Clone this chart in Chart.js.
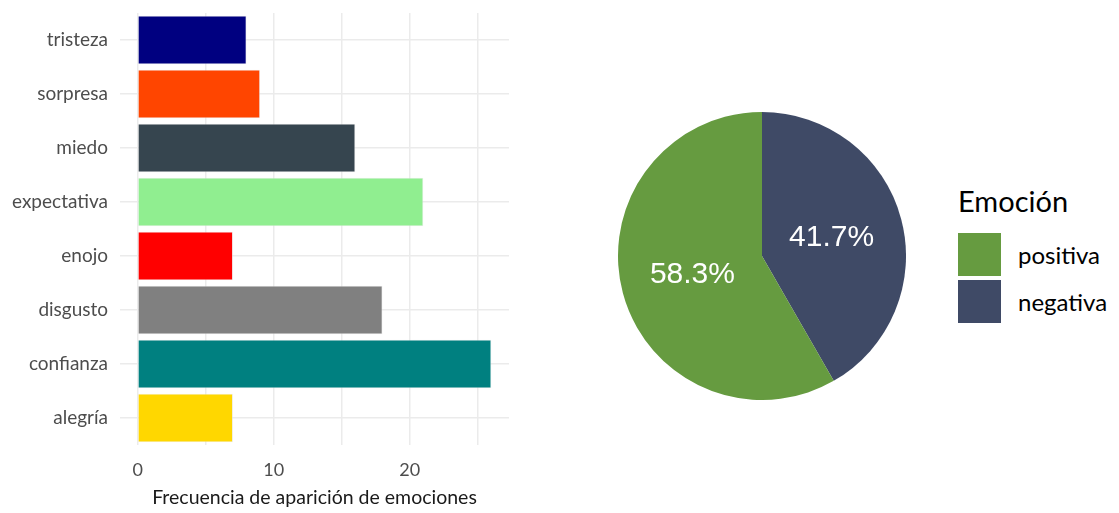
<!DOCTYPE html>
<html>
<head>
<meta charset="utf-8">
<script src="https://cdn.jsdelivr.net/npm/chart.js@4"></script>
<style>
  html, body { margin: 0; padding: 0; background: #fff; }
  body { width: 1119px; height: 513px; position: relative; overflow: hidden; font-family: Lato, sans-serif; }
  #barWrap { position: absolute; left: 0; top: 0; width: 530px; height: 513px; }
  #pieWrap { position: absolute; left: 618px; top: 112px; width: 288px; height: 288px; }
  #legend { position: absolute; left: 958px; top: 183px; color: #000; }
  #legend .title { font-size: 29px; line-height: 36px; margin-bottom: 12px; }
  #legend .row { display: flex; align-items: center; height: 47px; }
  #legend .box { width: 43px; height: 43px; margin-right: 17px; }
  #legend .lbl { font-size: 24px; }
</style>
</head>
<body>
<div id="barWrap"><canvas id="bars"></canvas></div>
<div id="pieWrap"><canvas id="pie"></canvas></div>
<div id="legend"></div>
<script>
// bar chart data (top to bottom)
const emociones = ['tristeza', 'sorpresa', 'miedo', 'expectativa', 'enojo', 'disgusto', 'confianza', 'alegría'];
const frecuencias = [8, 9, 16, 21, 7, 18, 26, 7];
const coloresBarras = ['#000080', '#FF4500', '#36454F', '#90EE90', '#FF0000', '#808080', '#008080', '#FFD700'];
const xTicks = [0, 5, 10, 15, 20, 25];

// pie data (drawn clockwise from 12 o'clock)
const polaridad = ['negativa', 'positiva'];
const porcentajes = [41.7, 58.3];
const coloresPie = ['#3F4A66', '#669B40'];
const ordenLeyenda = ['positiva', 'negativa'];

const tickColor = '#4d4d4d';
const gridColor = '#ebebeb';

// drop the label overhang padding so the plot panel sits where the layout says
function noOverhang(s) {
  s.paddingTop = 0; s.paddingBottom = 0; s.paddingLeft = 0; s.paddingRight = 0;
}

new Chart(document.getElementById('bars'), {
  type: 'bar',
  data: {
    labels: emociones,
    datasets: [{
      data: frecuencias,
      backgroundColor: coloresBarras,
      borderColor: 'rgba(230,230,230,0.8)',
      borderWidth: 0.8,
      barPercentage: 0.9,
      categoryPercentage: 1,
    }]
  },
  options: {
    indexAxis: 'y',
    responsive: true,
    maintainAspectRatio: false,
    animation: false,
    layout: { padding: { top: 13, right: 21, left: 0, bottom: 0 } },
    scales: {
      x: {
        min: -1.3, max: 27.3,
        afterBuildTicks: s => { s.ticks = xTicks.map(v => ({ value: v })); },
        afterFit: s => { s.height = 68; noOverhang(s); },
        grid: { color: gridColor, lineWidth: 1.5, drawTicks: false },
        border: { display: false },
        ticks: {
          color: tickColor, padding: 14,
          font: { family: 'Lato', size: 18 },
          callback: v => (v % 10 === 0 ? v : ''),
        },
        title: {
          display: true, text: 'Frecuencia de aparición de emociones',
          color: '#1a1a1a', font: { family: 'Lato', size: 19.5 }, padding: { top: 2 },
        },
      },
      y: {
        afterFit: s => { s.width = 120; noOverhang(s); },
        grid: { color: gridColor, lineWidth: 1.5, offset: false, drawTicks: false },
        border: { display: false },
        ticks: { color: tickColor, padding: 12, font: { family: 'Lato', size: 19 } },
      }
    },
    plugins: { legend: { display: false }, tooltip: { enabled: false } },
  }
});

// percentage labels at half radius of each slice
const pieLabels = {
  id: 'pieLabels',
  afterDatasetsDraw(chart) {
    const ctx = chart.ctx;
    const meta = chart.getDatasetMeta(0);
    ctx.save();
    ctx.fillStyle = '#fff';
    ctx.font = '30px "Liberation Sans", Arial, sans-serif';
    ctx.textAlign = 'center';
    ctx.textBaseline = 'middle';
    meta.data.forEach((arc, i) => {
      const p = arc.getCenterPoint();
      ctx.fillText(porcentajes[i].toFixed(1) + '%', p.x, p.y);
    });
    ctx.restore();
  }
};

new Chart(document.getElementById('pie'), {
  type: 'pie',
  data: {
    labels: polaridad,
    datasets: [{ data: porcentajes, backgroundColor: coloresPie, borderWidth: 0 }]
  },
  options: {
    responsive: true,
    maintainAspectRatio: false,
    animation: false,
    layout: { padding: 0 },
    plugins: { legend: { display: false }, tooltip: { enabled: false } },
  },
  plugins: [pieLabels]
});

// legend
const legend = document.getElementById('legend');
legend.innerHTML = '<div class="title">Emoción</div>' + ordenLeyenda.map(name => {
  const c = coloresPie[polaridad.indexOf(name)];
  return `<div class="row"><div class="box" style="background:${c}"></div><div class="lbl">${name}</div></div>`;
}).join('');
</script>
</body>
</html>
